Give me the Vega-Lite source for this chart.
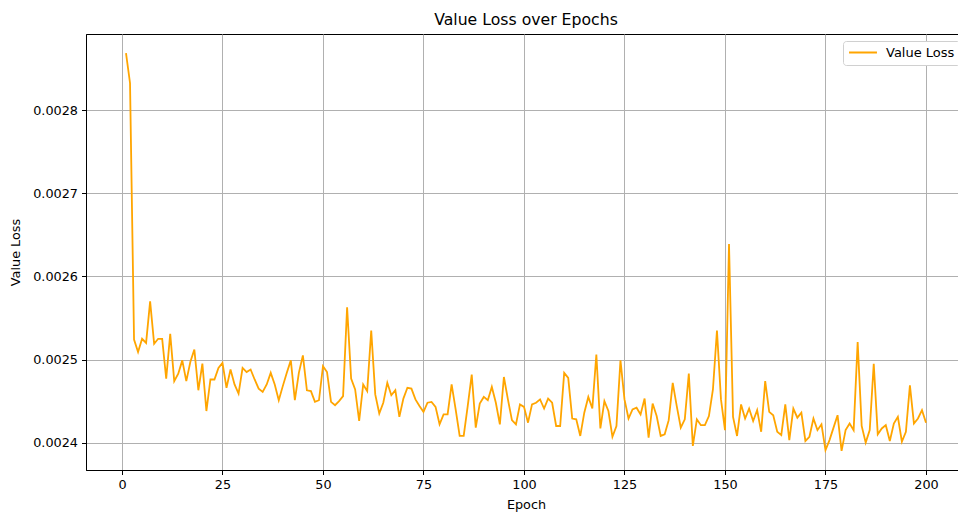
{
  "$schema": "https://vega.github.io/schema/vega-lite/v6.json",
  "autosize": {"type": "none"},
  "padding": {"left": 86, "top": 34, "right": 0, "bottom": 45},
  "width": 880,
  "height": 436,
  "background": "white",
  "title": {"text": "Value Loss over Epochs", "font": "DejaVu Sans", "fontSize": 15.7, "fontWeight": "normal", "color": "black", "anchor": "middle", "offset": 5},
  "data": {"values": [
    {"epoch":1,"loss":0.002869},{"epoch":2,"loss":0.002833},{"epoch":3,"loss":0.002524},{"epoch":4,"loss":0.002509},{"epoch":5,"loss":0.002525},
    {"epoch":6,"loss":0.002520},{"epoch":7,"loss":0.002570},{"epoch":8,"loss":0.002519},{"epoch":9,"loss":0.002525},{"epoch":10,"loss":0.002525},
    {"epoch":11,"loss":0.002477},{"epoch":12,"loss":0.002531},{"epoch":13,"loss":0.002474},{"epoch":14,"loss":0.002483},{"epoch":15,"loss":0.002499},
    {"epoch":16,"loss":0.002474},{"epoch":17,"loss":0.002497},{"epoch":18,"loss":0.002512},{"epoch":19,"loss":0.002463},{"epoch":20,"loss":0.002495},
    {"epoch":21,"loss":0.002438},{"epoch":22,"loss":0.002476},{"epoch":23,"loss":0.002476},{"epoch":24,"loss":0.002490},{"epoch":25,"loss":0.002496},
    {"epoch":26,"loss":0.002466},{"epoch":27,"loss":0.002488},{"epoch":28,"loss":0.002470},{"epoch":29,"loss":0.002459},{"epoch":30,"loss":0.002490},
    {"epoch":31,"loss":0.002485},{"epoch":32,"loss":0.002488},{"epoch":33,"loss":0.002476},{"epoch":34,"loss":0.002465},{"epoch":35,"loss":0.002461},
    {"epoch":36,"loss":0.002470},{"epoch":37,"loss":0.002484},{"epoch":38,"loss":0.002470},{"epoch":39,"loss":0.002451},{"epoch":40,"loss":0.002468},
    {"epoch":41,"loss":0.002484},{"epoch":42,"loss":0.002499},{"epoch":43,"loss":0.002451},{"epoch":44,"loss":0.002484},{"epoch":45,"loss":0.002505},
    {"epoch":46,"loss":0.002463},{"epoch":47,"loss":0.002462},{"epoch":48,"loss":0.002449},{"epoch":49,"loss":0.002451},{"epoch":50,"loss":0.002492},
    {"epoch":51,"loss":0.002485},{"epoch":52,"loss":0.002449},{"epoch":53,"loss":0.002445},{"epoch":54,"loss":0.002450},{"epoch":55,"loss":0.002456},
    {"epoch":56,"loss":0.002563},{"epoch":57,"loss":0.002477},{"epoch":58,"loss":0.002464},{"epoch":59,"loss":0.002426},{"epoch":60,"loss":0.002470},
    {"epoch":61,"loss":0.002462},{"epoch":62,"loss":0.002535},{"epoch":63,"loss":0.002458},{"epoch":64,"loss":0.002435},{"epoch":65,"loss":0.002448},
    {"epoch":66,"loss":0.002472},{"epoch":67,"loss":0.002457},{"epoch":68,"loss":0.002463},{"epoch":69,"loss":0.002431},{"epoch":70,"loss":0.002453},
    {"epoch":71,"loss":0.002466},{"epoch":72,"loss":0.002465},{"epoch":73,"loss":0.002452},{"epoch":74,"loss":0.002444},{"epoch":75,"loss":0.002437},
    {"epoch":76,"loss":0.002448},{"epoch":77,"loss":0.002449},{"epoch":78,"loss":0.002443},{"epoch":79,"loss":0.002422},{"epoch":80,"loss":0.002434},
    {"epoch":81,"loss":0.002434},{"epoch":82,"loss":0.002470},{"epoch":83,"loss":0.002440},{"epoch":84,"loss":0.002408},{"epoch":85,"loss":0.002408},
    {"epoch":86,"loss":0.002444},{"epoch":87,"loss":0.002482},{"epoch":88,"loss":0.002418},{"epoch":89,"loss":0.002447},{"epoch":90,"loss":0.002455},
    {"epoch":91,"loss":0.002451},{"epoch":92,"loss":0.002467},{"epoch":93,"loss":0.002448},{"epoch":94,"loss":0.002422},{"epoch":95,"loss":0.002479},
    {"epoch":96,"loss":0.002452},{"epoch":97,"loss":0.002427},{"epoch":98,"loss":0.002422},{"epoch":99,"loss":0.002446},{"epoch":100,"loss":0.002443},
    {"epoch":101,"loss":0.002424},{"epoch":102,"loss":0.002446},{"epoch":103,"loss":0.002448},{"epoch":104,"loss":0.002452},{"epoch":105,"loss":0.002441},
    {"epoch":106,"loss":0.002453},{"epoch":107,"loss":0.002448},{"epoch":108,"loss":0.002420},{"epoch":109,"loss":0.002420},{"epoch":110,"loss":0.002484},
    {"epoch":111,"loss":0.002478},{"epoch":112,"loss":0.002429},{"epoch":113,"loss":0.002428},{"epoch":114,"loss":0.002408},{"epoch":115,"loss":0.002436},
    {"epoch":116,"loss":0.002455},{"epoch":117,"loss":0.002441},{"epoch":118,"loss":0.002506},{"epoch":119,"loss":0.002417},{"epoch":120,"loss":0.002450},
    {"epoch":121,"loss":0.002438},{"epoch":122,"loss":0.002407},{"epoch":123,"loss":0.002420},{"epoch":124,"loss":0.002499},{"epoch":125,"loss":0.002452},
    {"epoch":126,"loss":0.002429},{"epoch":127,"loss":0.002440},{"epoch":128,"loss":0.002442},{"epoch":129,"loss":0.002434},{"epoch":130,"loss":0.002453},
    {"epoch":131,"loss":0.002406},{"epoch":132,"loss":0.002447},{"epoch":133,"loss":0.002432},{"epoch":134,"loss":0.002408},{"epoch":135,"loss":0.002410},
    {"epoch":136,"loss":0.002427},{"epoch":137,"loss":0.002472},{"epoch":138,"loss":0.002444},{"epoch":139,"loss":0.002418},{"epoch":140,"loss":0.002428},
    {"epoch":141,"loss":0.002483},{"epoch":142,"loss":0.002396},{"epoch":143,"loss":0.002428},{"epoch":144,"loss":0.002421},{"epoch":145,"loss":0.002421},
    {"epoch":146,"loss":0.002432},{"epoch":147,"loss":0.002464},{"epoch":148,"loss":0.002535},{"epoch":149,"loss":0.002452},{"epoch":150,"loss":0.002415},
    {"epoch":151,"loss":0.002639},{"epoch":152,"loss":0.002431},{"epoch":153,"loss":0.002408},{"epoch":154,"loss":0.002446},{"epoch":155,"loss":0.002429},
    {"epoch":156,"loss":0.002441},{"epoch":157,"loss":0.002426},{"epoch":158,"loss":0.002439},{"epoch":159,"loss":0.002413},{"epoch":160,"loss":0.002474},
    {"epoch":161,"loss":0.002437},{"epoch":162,"loss":0.002433},{"epoch":163,"loss":0.002413},{"epoch":164,"loss":0.002409},{"epoch":165,"loss":0.002446},
    {"epoch":166,"loss":0.002403},{"epoch":167,"loss":0.002441},{"epoch":168,"loss":0.002430},{"epoch":169,"loss":0.002436},{"epoch":170,"loss":0.002402},
    {"epoch":171,"loss":0.002407},{"epoch":172,"loss":0.002429},{"epoch":173,"loss":0.002415},{"epoch":174,"loss":0.002422},{"epoch":175,"loss":0.002391},
    {"epoch":176,"loss":0.002403},{"epoch":177,"loss":0.002418},{"epoch":178,"loss":0.002433},{"epoch":179,"loss":0.002390},{"epoch":180,"loss":0.002415},
    {"epoch":181,"loss":0.002423},{"epoch":182,"loss":0.002415},{"epoch":183,"loss":0.002521},{"epoch":184,"loss":0.002420},{"epoch":185,"loss":0.002400},
    {"epoch":186,"loss":0.002415},{"epoch":187,"loss":0.002495},{"epoch":188,"loss":0.002410},{"epoch":189,"loss":0.002417},{"epoch":190,"loss":0.002421},
    {"epoch":191,"loss":0.002402},{"epoch":192,"loss":0.002423},{"epoch":193,"loss":0.002431},{"epoch":194,"loss":0.002401},{"epoch":195,"loss":0.002413},
    {"epoch":196,"loss":0.002469},{"epoch":197,"loss":0.002423},{"epoch":198,"loss":0.002429},{"epoch":199,"loss":0.002439},{"epoch":200,"loss":0.002424}
  ]},
  "mark": {"type": "line", "strokeWidth": 1.8, "clip": true},
  "encoding": {
    "x": {"field": "epoch", "type": "quantitative", "title": "Epoch",
          "scale": {"domain": [-8.95, 209.95], "nice": false, "zero": false},
          "axis": {"values": [0, 25, 50, 75, 100, 125, 150, 175, 200], "format": "d", "titlePadding": 7}},
    "y": {"field": "loss", "type": "quantitative", "title": "Value Loss",
          "scale": {"domain": [0.002367, 0.002892], "nice": false, "zero": false},
          "axis": {"values": [0.0024, 0.0025, 0.0026, 0.0027, 0.0028], "format": ".4f", "titlePadding": 10}},
    "color": {"datum": "Value Loss", "type": "nominal",
              "scale": {"range": ["#FFA500"]},
              "legend": {"title": null, "orient": "none", "legendX": 757, "legendY": 7,
                         "symbolType": "stroke", "symbolSize": 780, "symbolStrokeWidth": 1.8,
                         "clipHeight": 13, "labelOffset": 8, "padding": 5, "strokeColor": "#d0d0d0", "fillColor": "white",
                         "cornerRadius": 3, "labelFontSize": 13, "labelFont": "DejaVu Sans", "labelColor": "black"}}
  },
  "config": {
    "view": {"stroke": "black", "strokeWidth": 1},
    "axis": {
      "domainColor": "black", "domainWidth": 1, "tickColor": "black", "tickSize": 4.5, "tickWidth": 1,
      "labelFont": "DejaVu Sans", "labelFontSize": 12.8, "labelColor": "black", "labelPadding": 4,
      "titleFont": "DejaVu Sans", "titleFontSize": 12.8, "titleFontWeight": "normal", "titleColor": "black",
      "grid": true, "gridColor": "#b0b0b0", "gridWidth": 1
    }
  }
}
